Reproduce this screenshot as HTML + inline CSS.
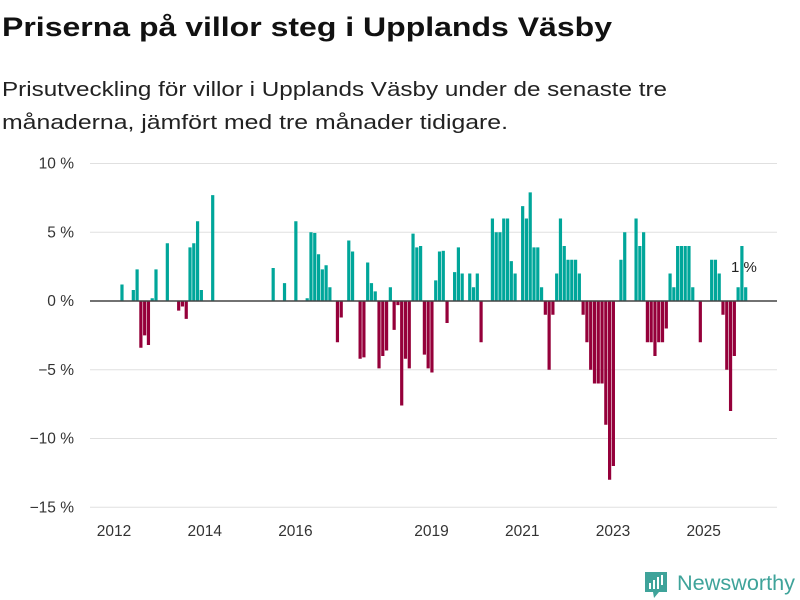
<!DOCTYPE html>
<html><head><meta charset="utf-8"><style>
html,body{margin:0;padding:0;background:#fff;}
svg{display:block;font-family:"Liberation Sans","DejaVu Sans",sans-serif;}
</style></head><body>
<svg id="chart" width="800" height="600" viewBox="0 0 800 600">
<text x="2" y="36" font-size="27" font-weight="bold" fill="#111" textLength="610" lengthAdjust="spacingAndGlyphs">Priserna på villor steg i Upplands Väsby</text>
<text x="2" y="96" font-size="20" fill="#222" textLength="665" lengthAdjust="spacingAndGlyphs">Prisutveckling för villor i Upplands Väsby under de senaste tre</text>
<text x="2" y="129" font-size="20" fill="#222" textLength="506" lengthAdjust="spacingAndGlyphs">månaderna, jämfört med tre månader tidigare.</text>
<g id="grid"></g>
<g id="bars"></g>
<g id="xaxis"></g>
<text x="731" y="272" font-size="15" fill="#222">1 %</text>
<g>
<path d="M645 572 h22 v20 h-8 l-5 6 l-1 -6 h-8 z" fill="#3fa39a"/>
<rect x="649" y="583" width="2" height="6" fill="#fff"/><rect x="653" y="580" width="2" height="9" fill="#fff"/><rect x="657" y="577" width="2" height="12" fill="#fff"/><rect x="661" y="575" width="2" height="10" fill="#fff"/>
<text x="677" y="590" font-size="21" fill="#3fa39a" textLength="118" lengthAdjust="spacingAndGlyphs">Newsworthy</text>
</g>
</svg>
<script>
const months = [1,4,5,6,7,8,9,10,13,16,17,18,19,20,21,22,25,41,44,47,50,51,52,53,54,55,56,58,59,61,62,64,65,66,67,68,69,70,71,72,73,74,75,76,77,78,79,80,81,82,83,84,85,86,87,89,90,91,93,94,95,96,99,100,101,102,103,104,105,107,108,109,110,111,112,113,114,115,116,117,118,119,120,121,122,123,124,125,126,127,128,129,130,131,133,134,137,138,139,140,141,142,143,144,145,146,147,148,149,150,151,152,154,157,158,159,160,161,162,163,164,165,166];
const values = [1.2,0.8,2.3,-3.4,-2.5,-3.2,0.2,2.3,4.2,-0.7,-0.4,-1.3,3.9,4.2,5.8,0.8,7.7,2.4,1.3,5.8,0.2,5.0,4.95,3.4,2.3,2.6,1.0,-3.0,-1.2,4.4,3.6,-4.2,-4.1,2.8,1.3,0.7,-4.9,-4.0,-3.6,1.0,-2.1,-0.3,-7.6,-4.2,-4.9,4.9,3.9,4.0,-3.9,-4.9,-5.2,1.5,3.6,3.65,-1.6,2.1,3.9,2.0,2.0,1.0,2.0,-3.0,6.0,5.0,5.0,6.0,6.0,2.9,2.0,6.9,6.0,7.9,3.9,3.9,1.0,-1.0,-5.0,-1.0,2.0,6.0,4.0,3.0,3.0,3.0,2.0,-1.0,-3.0,-5.0,-6.0,-6.0,-6.0,-9.0,-13.0,-12.0,3.0,5.0,6.0,4.0,5.0,-3.0,-3.0,-4.0,-3.0,-3.0,-2.0,2.0,1.0,4.0,4.0,4.0,4.0,1.0,-3.0,3.0,3.0,2.0,-1.0,-5.0,-8.0,-4.0,1.0,4.0,1.0];
const yTicks = [10,5,0,-5,-10,-15];
const yTickLabels = ["10 %","5 %","0 %","−5 %","−10 %","−15 %"];
const xTickYears = [2012,2014,2016,2019,2021,2023,2025];

const NS="http://www.w3.org/2000/svg";
function yScale(v){return 301 - v*13.75;}
function xScale(m){return 116.6 + m*3.78;}
function mk(tag,attrs,parent){const e=document.createElementNS(NS,tag);for(const k in attrs)e.setAttribute(k,attrs[k]);parent.appendChild(e);return e;}
const grid=document.getElementById('grid');
yTicks.forEach((t,i)=>{
  if(t!==0){
    const l=mk('line',{x1:90,x2:777,y1:yScale(t),y2:yScale(t),stroke:'#e0e0e0','stroke-width':1},grid);
    
    
  }
  const tx=mk('text',{x:74,y:yScale(t)+5,'text-anchor':'end','font-size':15.5,fill:'#333'},grid);
  tx.textContent=yTickLabels[i];
  
  
});
const bars=document.getElementById('bars');
months.forEach((m,i)=>{
  const v=values[i];
  const y0=yScale(0), y1=yScale(v);
  const r=mk('rect',{x:xScale(m),y:Math.min(y0,y1),width:3.2,height:Math.abs(y1-y0),fill:v>=0?'#00a69a':'#95003a'},bars);
  
  
});
const xa=document.getElementById('xaxis');
const zl=mk('line',{x1:90,x2:777,y1:301,y2:301,stroke:'#444','stroke-width':1.5},xa);


xTickYears.forEach(yr=>{
  const x=xScale((yr-2012)*12)-2.6;
  const t=mk('text',{x:x,y:536,'text-anchor':'middle','font-size':15.5,fill:'#333'},xa);
  t.textContent=yr;
  
  
});
</script>
</body></html>
